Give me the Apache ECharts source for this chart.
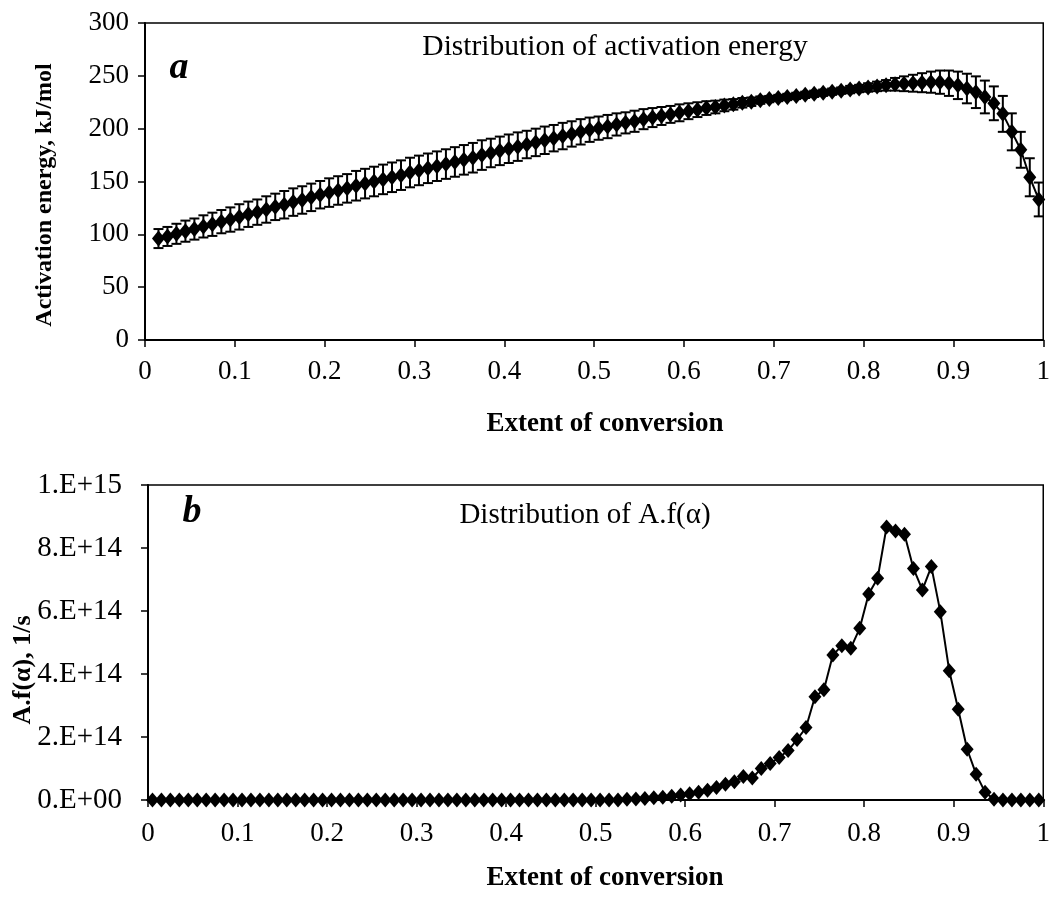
<!DOCTYPE html>
<html>
<head>
<meta charset="utf-8">
<script src="https://cdn.jsdelivr.net/npm/echarts@6/dist/echarts.min.js"></script>
<style>
html,body{margin:0;padding:0;background:#fff;}
#chart{width:1053px;height:899px;}
</style>
</head>
<body>
<div id="chart"></div>
<script>
// ---- Panel a: activation energy vs extent of conversion ----
const convA = [0.015,0.025,0.035,0.045,0.055,0.065,0.075,0.085,0.095,
  0.105,0.115,0.125,0.135,0.145,0.155,0.165,0.175,0.185,0.195,
  0.205,0.215,0.225,0.235,0.245,0.255,0.265,0.275,0.285,0.295,
  0.305,0.315,0.325,0.335,0.345,0.355,0.365,0.375,0.385,0.395,
  0.405,0.415,0.425,0.435,0.445,0.455,0.465,0.475,0.485,0.495,
  0.505,0.515,0.525,0.535,0.545,0.555,0.565,0.575,0.585,0.595,
  0.605,0.615,0.625,0.635,0.645,0.655,0.665,0.675,0.685,0.695,
  0.705,0.715,0.725,0.735,0.745,0.755,0.765,0.775,0.785,0.795,
  0.805,0.815,0.825,0.835,0.845,0.855,0.865,0.875,0.885,0.895,
  0.905,0.915,0.925,0.935,0.945,0.955,0.965,0.975,0.985,0.995];
const energy = [96,98,100.5,103,105,107.5,109.5,112,114,
  116.5,119,121,123.5,126,128,130.5,132.5,135,137.5,
  139.5,141.5,143.5,146,148,150,152,154,156,158.5,
  160.5,162.5,164.5,166.5,168.5,170.5,172.5,175,177,179,
  181,183,185,187,189,191,193,195,197,199,
  200.5,202,204,205.5,207,209,210.5,212,213.5,215,
  216.5,218,219.5,220.5,222,223,224.5,225.5,227,228,
  229,230,231,232,233,234,235,236,237,238,
  239,240,241,242,242.5,243,243.5,244,244,243,
  241,238,234.5,230,224,214,197,180,154,133];
const energyErr = [9,9,9.5,10,10,10.5,11,11,11.5,
  12,12,12,12.5,12.5,13,13,13,13,13,
  13.5,13.5,13.5,14,14,14,14,14,14,14,
  14,14,14,14,14,14,14,14,13.5,13.5,
  13.5,13.5,13,13,13,12.5,12.5,12,12,11.5,
  11,11,10.5,10,10,9.5,9,8.5,8,8,
  7.5,7,6.5,6,5.5,5,4.5,4,3.5,3,
  3,3,3,3,3,3,3,3,3.5,3.5,
  4,4.5,5,6,7,8,9,10,11,12,
  13,14,15,15.5,16,17,17.5,17,18,16];

// ---- Panel b: A.f(alpha) vs extent of conversion ----
const convB = [0.005,0.015,0.025,0.035,0.045,0.055,0.065,0.075,0.085,0.095,
  0.105,0.115,0.125,0.135,0.145,0.155,0.165,0.175,0.185,0.195,
  0.205,0.215,0.225,0.235,0.245,0.255,0.265,0.275,0.285,0.295,
  0.305,0.315,0.325,0.335,0.345,0.355,0.365,0.375,0.385,0.395,
  0.405,0.415,0.425,0.435,0.445,0.455,0.465,0.475,0.485,0.495,
  0.505,0.515,0.525,0.535,0.545,0.555,0.565,0.575,0.585,0.595,
  0.605,0.615,0.625,0.635,0.645,0.655,0.665,0.675,0.685,0.695,
  0.705,0.715,0.725,0.735,0.745,0.755,0.765,0.775,0.785,0.795,
  0.805,0.815,0.825,0.835,0.845,0.855,0.865,0.875,0.885,0.895,
  0.905,0.915,0.925,0.935,0.945,0.955,0.965,0.975,0.985,0.995];
const afValues = [0,0,0,0,0,0,0,0,0,0,
  0,0,0,0,0,0,0,0,0,0,
  0,0,0,0,0,0,0,0,0,0,
  0,0,0,0,0,0,0,0,0,0,
  0,0,0,0,0,0,0,0,0,0,
  0,0,0,0.02e14,0.03e14,0.05e14,0.07e14,0.09e14,0.12e14,0.16e14,
  0.2e14,0.25e14,0.31e14,0.4e14,0.5e14,0.58e14,0.75e14,0.7e14,1.0e14,1.16e14,
  1.35e14,1.57e14,1.92e14,2.3e14,3.28e14,3.5e14,4.6e14,4.9e14,4.82e14,5.45e14,
  6.54e14,7.04e14,8.67e14,8.54e14,8.44e14,7.35e14,6.67e14,7.41e14,5.98e14,4.1e14,
  2.88e14,1.61e14,0.82e14,0.25e14,0.02e14,0,0,0,0,0];

// ---- axis tick settings ----
const xTicks = {min:0, max:1, interval:0.1};
const eTicks = {min:0, max:300, interval:50};
const afTicks = {min:0, max:1e15, interval:2e14};

const FONT = '"Liberation Serif", "Times New Roman", serif';

function sciLabel(v){
  if (v === 0) return '0.E+00';
  const e = Math.floor(Math.log10(v) + 1e-9);
  const m = Math.round(v / Math.pow(10, e));
  return m + '.E+' + (e < 10 ? '0' + e : e);
}

const axisCommon = {
  axisLine:{show:true, onZero:false, lineStyle:{color:'#000', width:2}},
  axisTick:{show:true, inside:false, length:7, lineStyle:{color:'#000', width:1.5}},
  splitLine:{show:false},
};

const chart = echarts.init(document.getElementById('chart'), null, {renderer:'canvas'});

const option = {
  backgroundColor:'#fff',
  animation:false,
  grid:[
    {left:145, top:23, width:903, height:317, show:true, borderColor:'#000', borderWidth:1.5, backgroundColor:'transparent'},
    {left:148, top:485, width:898, height:315, show:true, borderColor:'#000', borderWidth:1.5, backgroundColor:'transparent'}
  ],
  xAxis:[
    Object.assign({type:'value', gridIndex:0, min:xTicks.min, max:xTicks.max, interval:xTicks.interval,
      axisLabel:{color:'#000', fontFamily:FONT, fontSize:27, margin:18,
        formatter:v => String(+v.toFixed(1))}}, axisCommon),
    Object.assign({type:'value', gridIndex:1, min:xTicks.min, max:xTicks.max, interval:xTicks.interval,
      axisLabel:{color:'#000', fontFamily:FONT, fontSize:27, margin:20,
        formatter:v => String(+v.toFixed(1))}}, axisCommon)
  ],
  yAxis:[
    Object.assign({type:'value', gridIndex:0, min:eTicks.min, max:eTicks.max, interval:eTicks.interval,
      axisLabel:{color:'#000', fontFamily:FONT, fontSize:27, margin:16}}, axisCommon),
    Object.assign({type:'value', gridIndex:1, min:afTicks.min, max:afTicks.max, interval:afTicks.interval,
      axisLabel:{color:'#000', fontFamily:FONT, fontSize:29, margin:26, formatter:sciLabel}}, axisCommon)
  ],
  series:[
    {
      type:'custom', xAxisIndex:0, yAxisIndex:0, z:2,
      data: convA.map((x,i) => [x, energy[i], energyErr[i]]),
      encode:{x:0, y:1},
      renderItem:function(params, api){
        const x = api.value(0), y = api.value(1), e = api.value(2);
        const hi = api.coord([x, y + e]);
        const lo = api.coord([x, y - e]);
        const hw = 5;
        const st = {stroke:'#000', lineWidth:2};
        return {type:'group', children:[
          {type:'line', shape:{x1:hi[0], y1:hi[1], x2:lo[0], y2:lo[1]}, style:st},
          {type:'line', shape:{x1:hi[0]-hw, y1:hi[1], x2:hi[0]+hw, y2:hi[1]}, style:st},
          {type:'line', shape:{x1:lo[0]-hw, y1:lo[1], x2:lo[0]+hw, y2:lo[1]}, style:st}
        ]};
      }
    },
    {
      type:'line', xAxisIndex:0, yAxisIndex:0, z:3,
      data: convA.map((x,i) => [x, energy[i]]),
      symbol:'diamond', symbolSize:[13,16], showSymbol:true,
      itemStyle:{color:'#000'}, lineStyle:{color:'#000', width:2}
    },
    {
      type:'line', xAxisIndex:1, yAxisIndex:1, z:3,
      data: convB.map((x,i) => [x, afValues[i]]),
      symbol:'diamond', symbolSize:[13,15], showSymbol:true,
      itemStyle:{color:'#000'}, lineStyle:{color:'#000', width:2}
    }
  ],
  graphic:[
    {type:'text', x:615, y:47, style:{text:'Distribution of activation energy', font:'29.5px ' + FONT, fill:'#000', textAlign:'center', textVerticalAlign:'middle'}},
    {type:'text', x:179, y:68, style:{text:'a', font:'italic bold 38px ' + FONT, fill:'#000', textAlign:'center', textVerticalAlign:'middle'}},
    {type:'text', x:45, y:195, rotation:Math.PI/2, style:{text:'Activation energy, kJ/mol', font:'bold 24px ' + FONT, fill:'#000', textAlign:'center', textVerticalAlign:'middle'}},
    {type:'text', x:605, y:424, style:{text:'Extent of conversion', font:'bold 27px ' + FONT, fill:'#000', textAlign:'center', textVerticalAlign:'middle'}},
    {type:'text', x:585, y:515, style:{text:'Distribution of A.f(α)', font:'29px ' + FONT, fill:'#000', textAlign:'center', textVerticalAlign:'middle'}},
    {type:'text', x:192, y:512, style:{text:'b', font:'italic bold 38px ' + FONT, fill:'#000', textAlign:'center', textVerticalAlign:'middle'}},
    {type:'text', x:23, y:670, rotation:Math.PI/2, style:{text:'A.f(α), 1/s', font:'bold 26px ' + FONT, fill:'#000', textAlign:'center', textVerticalAlign:'middle'}},
    {type:'text', x:605, y:878, style:{text:'Extent of conversion', font:'bold 27px ' + FONT, fill:'#000', textAlign:'center', textVerticalAlign:'middle'}}
  ]
};
chart.setOption(option);
</script>
</body>
</html>
